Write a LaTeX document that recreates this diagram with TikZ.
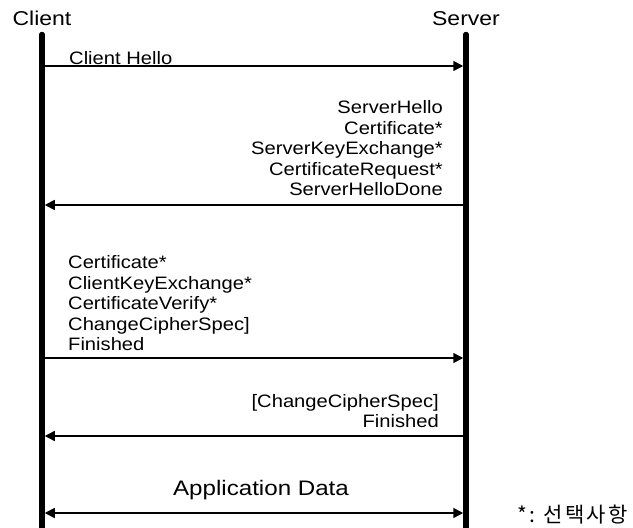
\documentclass[tikz,border=0pt]{standalone}
\usepackage{fontspec}
\setmainfont{Liberation Sans}[FakeStretch=1.12]
\newfontfamily\headfont{Liberation Sans}[FakeStretch=1.15]
\newfontfamily\korean{Noto Sans CJK KR}[LetterSpace=10]
\usetikzlibrary{arrows.meta,positioning}

\begin{document}
\begin{tikzpicture}[x=1pt, y=-1pt,
    life/.style={line width=5.5pt, line cap=round},
    msg/.style={line width=1.5pt, -{Triangle[length=10pt,width=10pt]}, shorten >=2.75pt, shorten <=2.75pt},
    both/.style={msg, {Triangle[length=10pt,width=10pt]}-{Triangle[length=10pt,width=10pt]}},
    lbl/.style={inner sep=0pt, font=\fontsize{18}{20.5}\selectfont},
    head/.style={inner sep=0pt, font=\headfont\fontsize{20}{24}\selectfont}]
    \useasboundingbox (0,0) rectangle (633,528);

    % Lifelines
    \coordinate (ctop) at (42,34.5);
    \coordinate (cbot) at (42,540);
    \coordinate (stop) at (466,34.5);
    \coordinate (sbot) at (466,540);
    \draw[life] (ctop) -- (cbot);
    \draw[life] (stop) -- (sbot);
    \node[head, above=8.5pt of ctop] (client) {Client};
    \node[head, above=8.5pt of stop] (server) {Server};

    % Messages
    \foreach \n/\y in {1/66, 2/205, 3/358, 4/436, 5/513} {
        \coordinate (c\n) at (42,\y);
        \coordinate (s\n) at (466,\y);
    }
    \draw[msg] (c1) -- (s1);
    \draw[msg] (s2) -- (c2);
    \draw[msg] (c3) -- (s3);
    \draw[msg] (s4) -- (c4);
    \draw[both] (c5) -- (s5);

    % Labels
    \node[lbl, anchor=base west] (hello) at (69,64) {Client Hello};
    \node[lbl, align=right, anchor=south east] (srvmsg) at (443,196)
        {ServerHello\\Certificate*\\ServerKeyExchange*\\CertificateRequest*\\ServerHelloDone};
    \node[lbl, align=left, anchor=south west] (climsg) at (68,351)
        {Certificate*\\ClientKeyExchange*\\CertificateVerify*\\ChangeCipherSpec]\\Finished};
    \node[lbl, align=right, anchor=south east] (srvfin) at (439,428)
        {[ChangeCipherSpec]\\Finished};
    \node[head, font=\headfont\fontsize{21}{24}\selectfont, anchor=base] (appdata) at (261,495) {Application Data};
    \node[inner sep=0pt, anchor=base west, font=\korean\fontsize{21}{24}\selectfont] (note) at (517,522) {*: 선택사항};
\end{tikzpicture}
\end{document}
